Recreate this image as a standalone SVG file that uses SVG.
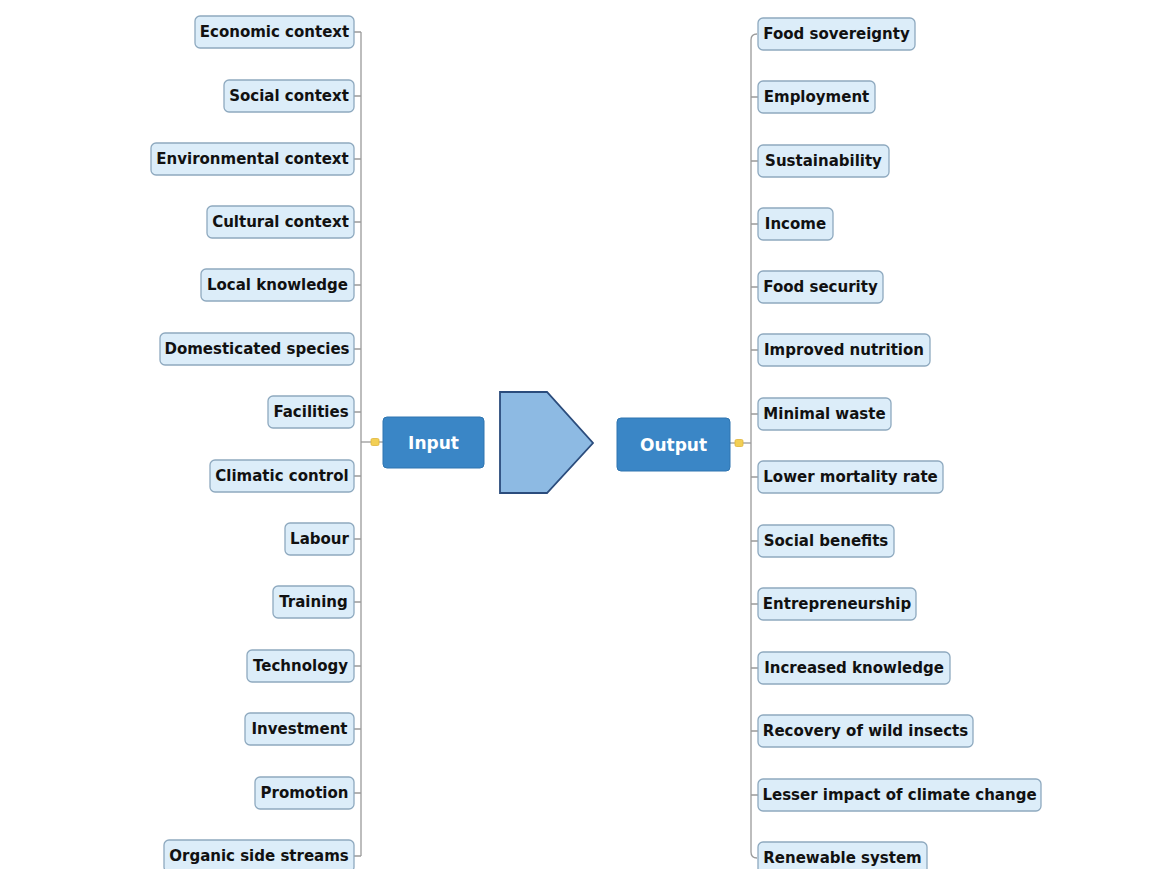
<svg xmlns="http://www.w3.org/2000/svg" width="1165" height="869" viewBox="0 0 1165 869">
<style>
.n rect{fill:#dcedf9;stroke:#8ea9bf;stroke-width:1.3}
.n text{font-family:"DejaVu Sans",Verdana,sans-serif;font-weight:bold;font-size:15px;fill:#111;text-anchor:middle}
.c{stroke:#9a9a9a;stroke-width:1.3;fill:none}
.hub rect{fill:#3a86c6;stroke:#2f75b0;stroke-width:1}
.hub text{font-family:"DejaVu Sans",Verdana,sans-serif;font-weight:bold;font-size:17px;fill:#fff;text-anchor:middle}
.knob{fill:#f2cf55;stroke:#e0b53a;stroke-width:0.8}
</style>
<rect width="1165" height="869" fill="#fff"/>
<g id="connectors">
<path class="c" d="M361,32 V856"/>
<path class="c" d="M354,32 H361 M354,96 H361 M354,159 H361 M354,222 H361 M354,285 H361 M354,349 H361 M354,412 H361 M354,476 H361 M354,539 H361 M354,602 H361 M354,666 H361 M354,729 H361 M354,793 H361 M354,856 H361"/>
<path class="c" d="M361,442 H383"/>
<path class="c" d="M751,40 Q751,34 757,34 M751,40 V852 Q751,858 757,858"/>
<path class="c" d="M751,97 H758 M751,161 H758 M751,224 H758 M751,287 H758 M751,350 H758 M751,414 H758 M751,477 H758 M751,541 H758 M751,604 H758 M751,668 H758 M751,731 H758 M751,795 H758"/>
<path class="c" d="M730,443 H751"/>
<rect class="knob" x="371" y="438.5" width="8" height="7" rx="1.5"/>
<rect class="knob" x="735" y="439.5" width="8" height="7" rx="1.5"/>
</g>
<g id="n-economic" class="n"><rect x="195" y="16" width="159" height="32" rx="5"/><text x="274.5" y="37">Economic context</text></g>
<g id="n-social" class="n"><rect x="224" y="80" width="130" height="32" rx="5"/><text x="289" y="101">Social context</text></g>
<g id="n-environmental" class="n"><rect x="151" y="143" width="203" height="32" rx="5"/><text x="252.5" y="164">Environmental context</text></g>
<g id="n-cultural" class="n"><rect x="207" y="206" width="147" height="32" rx="5"/><text x="280.5" y="227">Cultural context</text></g>
<g id="n-local" class="n"><rect x="201" y="269" width="153" height="32" rx="5"/><text x="277.5" y="290">Local knowledge</text></g>
<g id="n-domesticated" class="n"><rect x="160" y="333" width="194" height="32" rx="5"/><text x="257" y="354">Domesticated species</text></g>
<g id="n-facilities" class="n"><rect x="268" y="396" width="86" height="32" rx="5"/><text x="311" y="417">Facilities</text></g>
<g id="n-climatic" class="n"><rect x="210" y="460" width="144" height="32" rx="5"/><text x="282" y="481">Climatic control</text></g>
<g id="n-labour" class="n"><rect x="285" y="523" width="69" height="32" rx="5"/><text x="319.5" y="544">Labour</text></g>
<g id="n-training" class="n"><rect x="273" y="586" width="81" height="32" rx="5"/><text x="313.5" y="607">Training</text></g>
<g id="n-technology" class="n"><rect x="247" y="650" width="107" height="32" rx="5"/><text x="300.5" y="671">Technology</text></g>
<g id="n-investment" class="n"><rect x="245" y="713" width="109" height="32" rx="5"/><text x="299.5" y="734">Investment</text></g>
<g id="n-promotion" class="n"><rect x="255" y="777" width="99" height="32" rx="5"/><text x="304.5" y="798">Promotion</text></g>
<g id="n-organic" class="n"><rect x="164" y="840" width="190" height="32" rx="5"/><text x="259" y="861">Organic side streams</text></g>
<g id="n-input" class="hub"><rect x="383" y="417" width="101" height="51" rx="4"/><text x="433.5" y="449">Input</text></g>
<g id="n-arrow"><polygon points="500,392 547,392 593,443 547,493 500,493" fill="#8dbae3" stroke="#2b4c7c" stroke-width="1.8" stroke-linejoin="miter"/></g>
<g id="n-output" class="hub"><rect x="617" y="418" width="113" height="53" rx="4"/><text x="673.5" y="451">Output</text></g>
<g id="n-food-sov" class="n"><rect x="758" y="18" width="157" height="32" rx="5"/><text x="836.5" y="39">Food sovereignty</text></g>
<g id="n-employment" class="n"><rect x="758" y="81" width="117" height="32" rx="5"/><text x="816.5" y="102">Employment</text></g>
<g id="n-sustainability" class="n"><rect x="758" y="145" width="131" height="32" rx="5"/><text x="823.5" y="166">Sustainability</text></g>
<g id="n-income" class="n"><rect x="758" y="208" width="75" height="32" rx="5"/><text x="795.5" y="229">Income</text></g>
<g id="n-food-sec" class="n"><rect x="758" y="271" width="125" height="32" rx="5"/><text x="820.5" y="292">Food security</text></g>
<g id="n-nutrition" class="n"><rect x="758" y="334" width="172" height="32" rx="5"/><text x="844" y="355">Improved nutrition</text></g>
<g id="n-waste" class="n"><rect x="758" y="398" width="133" height="32" rx="5"/><text x="824.5" y="419">Minimal waste</text></g>
<g id="n-mortality" class="n"><rect x="758" y="461" width="185" height="32" rx="5"/><text x="850.5" y="482">Lower mortality rate</text></g>
<g id="n-social-ben" class="n"><rect x="758" y="525" width="136" height="32" rx="5"/><text x="826" y="546">Social benefits</text></g>
<g id="n-entrepreneurship" class="n"><rect x="758" y="588" width="158" height="32" rx="5"/><text x="837" y="609">Entrepreneurship</text></g>
<g id="n-knowledge" class="n"><rect x="758" y="652" width="192" height="32" rx="5"/><text x="854" y="673">Increased knowledge</text></g>
<g id="n-insects" class="n"><rect x="758" y="715" width="215" height="32" rx="5"/><text x="865.5" y="736">Recovery of wild insects</text></g>
<g id="n-climate" class="n"><rect x="758" y="779" width="283" height="32" rx="5"/><text x="899.5" y="800">Lesser impact of climate change</text></g>
<g id="n-renewable" class="n"><rect x="758" y="842" width="169" height="32" rx="5"/><text x="842.5" y="863">Renewable system</text></g>
</svg>
